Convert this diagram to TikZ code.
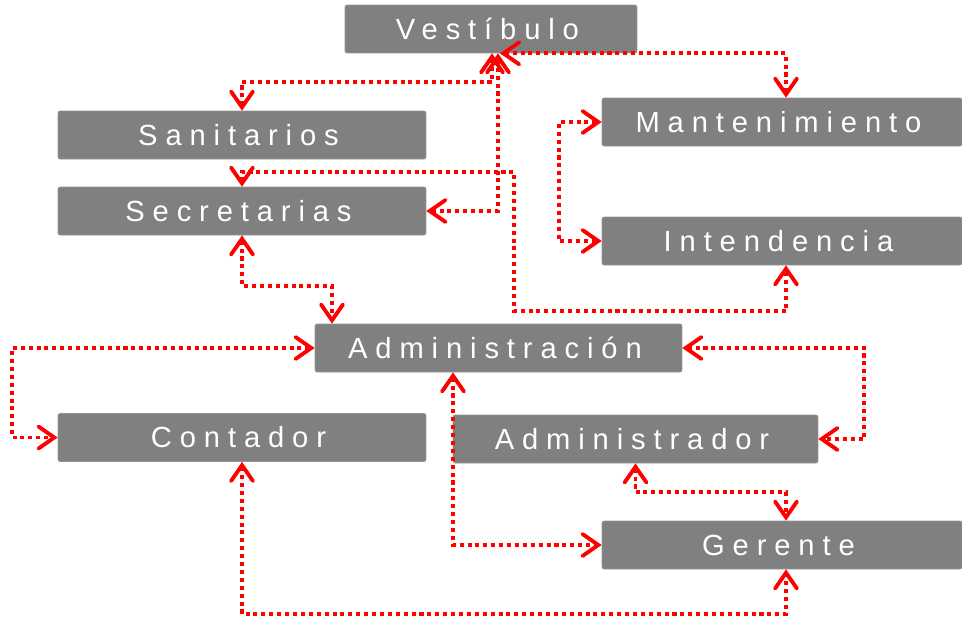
\documentclass[tikz,border=0pt]{standalone}
\usepackage{fontspec}
\newfontfamily\boxfont[LetterSpace=27]{Liberation Sans}
\usetikzlibrary{arrows.meta}
\definecolor{boxgray}{RGB}{128,128,128}
\definecolor{linkred}{RGB}{255,0,0}

\begin{document}
\begin{tikzpicture}[x=0.02cm, y=-0.02cm,
     box/.style={fill=boxgray, draw=boxgray!85!white, line width=0.4pt, rounded corners=1.2pt,
          minimum height=0.96cm, inner sep=0pt, text=white,
          font=\boxfont\fontsize{16.6pt}{18pt}\selectfont,
          execute at begin node=\hspace*{-4pt}},
     link/.style={linkred, line width=2.2pt, dash pattern=on 2.3pt off 2.2pt,
          {Straight Barb[length=9pt, width=12.5pt, line cap=round]}-{Straight Barb[length=9pt, width=12.5pt, line cap=round]}}]
               \useasboundingbox (0,0) rectangle (962,619);
               % boxes
               \node[box, minimum width=5.84cm] (vest) at (491,29) {Vestíbulo};
               \node[box, minimum width=7.36cm] (sani) at (242,135) {Sanitarios};
               \node[box, minimum width=7.36cm] (secr) at (242,211) {Secretarias};
               \node[box, minimum width=7.2cm] (mant) at (782,122) {Mantenimiento};
               \node[box, minimum width=7.2cm] (inte) at (782,241) {Intendencia};
               \node[box, minimum width=7.34cm] (admn) at (498.5,348) {Administración};
               \node[box, minimum width=7.36cm] (cont) at (242,437.5) {Contador};
               \node[box, minimum width=7.3cm] (admr) at (635.5,439) {Administrador};
               \node[box, minimum width=7.2cm] (gere) at (782,545) {Gerente};
               % links
               \draw[link] (sani.north) |- (492,82) -- (vest.south -| 492,0);
               \draw[link] (secr.east) -| (vest.south -| 498,0);
               \draw[link] (mant.north -| 786,0) |- (vest.south -| 500,0);
               \draw[link] (secr.north) -- (secr.north |- 0,172) -| (514,311) -| (inte.south -| 786,0);
               \draw[link] (mant.west) -- ++(-43,0) |- (inte.west);
               \draw[link] (secr.south) |- (332,286) -- (admn.north -| 332,0);
               \draw[link] (admn.west) -- (12,348) |- (cont.west);
               \draw[link] (admn.east) -- (864,348) |- (admr.east);
               \draw[link] (admn.south -| 453,0) |- (gere.west);
               \draw[link] (admr.south) -- ++(0,29) -| (gere.north -| 786,0);
               \draw[link] (cont.south) -- ++(0,152) -| (gere.south -| 786,0);
          \end{tikzpicture}
\end{document}
